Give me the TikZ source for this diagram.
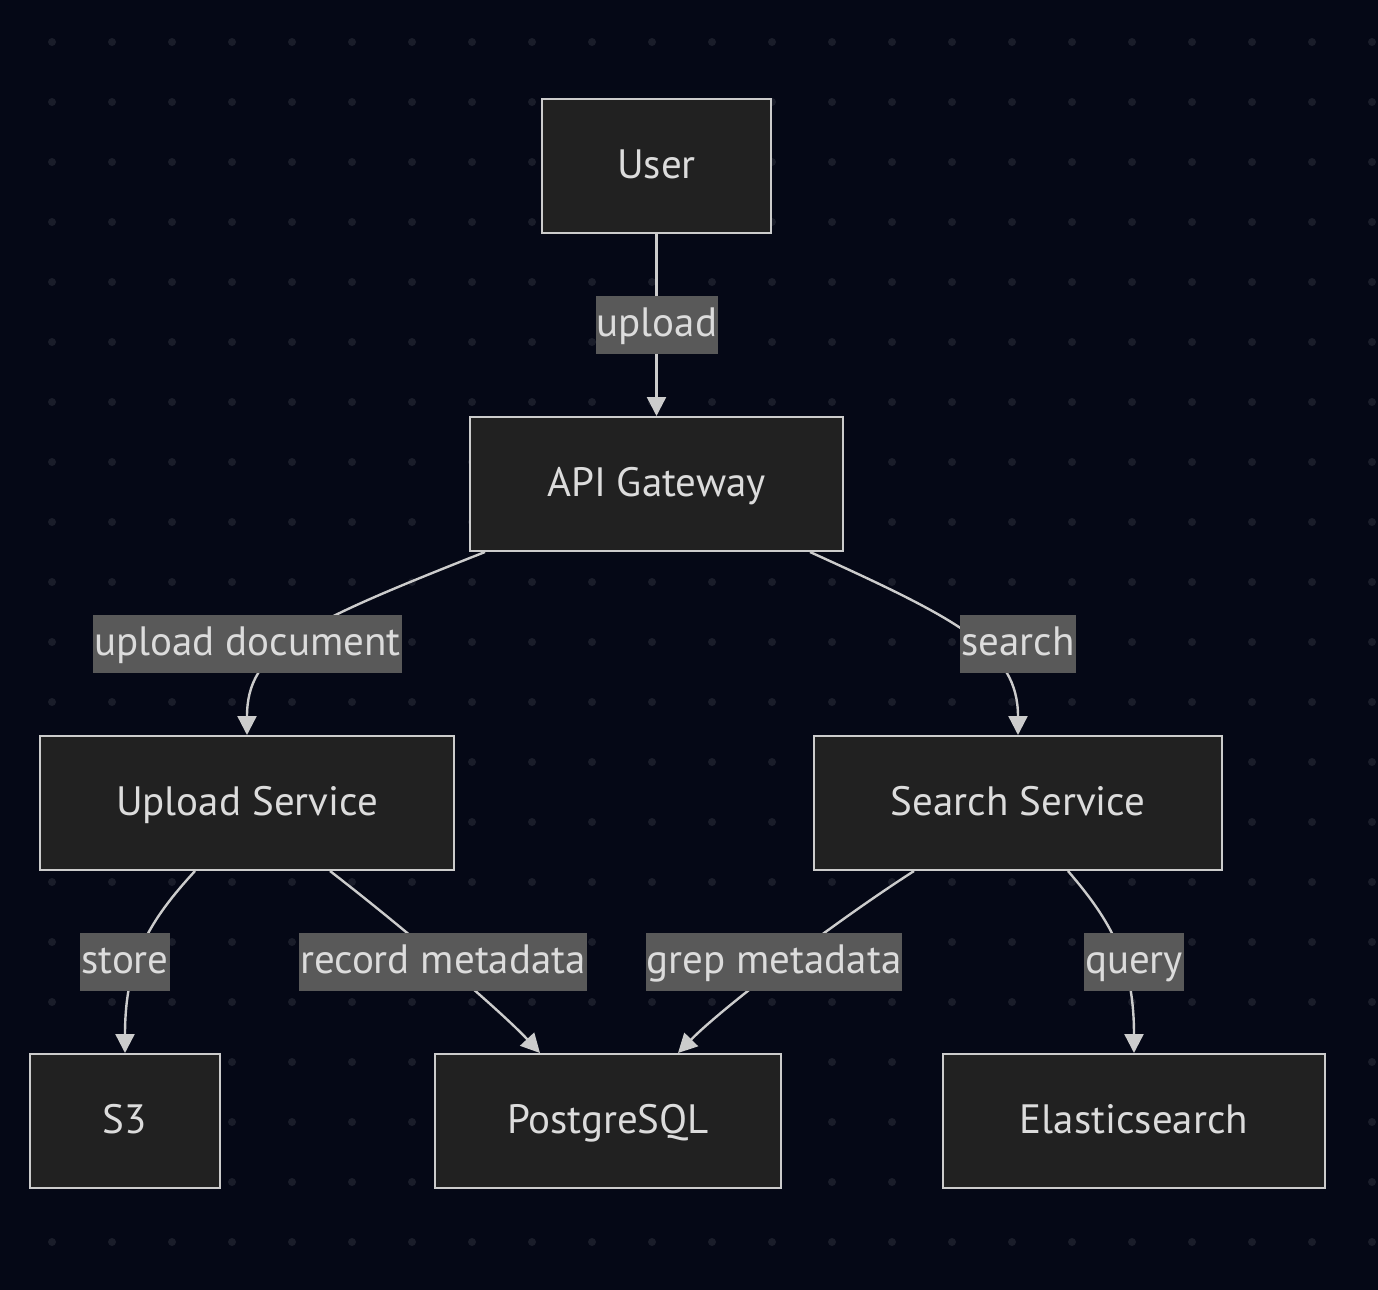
\documentclass[tikz,border=0pt]{standalone}
\usepackage{fontspec}
\setmainfont{PT Sans}
\usetikzlibrary{calc,arrows.meta}
\definecolor{bgcol}{HTML}{050816}
\definecolor{dotcol}{HTML}{1A1D2A}
\definecolor{boxcol}{HTML}{212121}
\definecolor{edgecol}{HTML}{CCCCCC}
\definecolor{txtcol}{HTML}{DCDCDC}
\definecolor{lblcol}{HTML}{595959}
\tikzset{
  box/.style={draw=edgecol, line width=1pt, fill=boxcol, text=txtcol, minimum height=67pt, inner sep=0pt, text height=14.5pt, text depth=2.5pt, font=\fontsize{20.5}{24}\selectfont},
  lbl/.style={fill=lblcol, text=txtcol, minimum height=29pt, inner xsep=0.5pt, inner ysep=0pt, text height=14.5pt, text depth=3pt, font=\fontsize{20.5}{24}\selectfont},
  flow/.style={draw=edgecol, line width=1.2pt, -{Triangle[length=9.5pt,width=9.5pt]}}
}
\begin{document}
\begin{tikzpicture}[x=0.5pt,y=-0.5pt]

\fill [bgcol] (0,0) rectangle (1378,1290);
\useasboundingbox (0,0) rectangle (1378,1290);

\foreach \i in {0,...,22}
  \foreach \j in {0,...,20}
    \fill [dotcol] (52+60*\i, 42+60*\j) circle [radius=2pt];


\node[box, minimum width=114.5pt] (user) at (656.5,166) {User};
\node[box, minimum width=186.5pt] (api) at (656.5,484) {API Gateway};

\node[box, minimum width=207pt] (upsvc) at (247,803) {Upload Service};
\node[box, minimum width=204pt] (searchsvc) at (1018,803) {Search Service};

\node[box, minimum width=95pt] (s3) at (125,1121) {S3};
\node[box, minimum width=173pt] (pg) at (608,1121) {PostgreSQL};
\node[box, minimum width=191pt] (es) at (1134,1121) {Elasticsearch};


\draw [flow] (user.south) -- (api.north);

\draw [flow] ($(api.south)+(-171.5,0)$) .. controls (300,625) and (247,650) .. (upsvc.north);
\draw [flow] ($(api.south)+(153.5,0)$) .. controls (960,620) and (1018,650) .. (searchsvc.north);

\draw [flow] ($(upsvc.south)+(-52,0)$) .. controls (150,920) and (125,960) .. (s3.north);
\draw [flow] ($(upsvc.south)+(83,0)$) .. controls (400,925) and (500,1010) .. ($(pg.north)+(-68,0)$);
\draw [flow] ($(searchsvc.south)+(-104,0)$) .. controls (830,925) and (720,1010) .. ($(pg.north)+(70,0)$);
\draw [flow] ($(searchsvc.south)+(50,0)$) .. controls (1110,920) and (1134,960) .. (es.north);


\node[lbl] (lupload) at (657,325) {upload};
\node[lbl] (lupdoc) at (247.5,644) {upload document};
\node[lbl] (lsearch) at (1018,644) {search};
\node[lbl] (lstore) at (125,962) {store};
\node[lbl] (lrecord) at (443,962) {record metadata};
\node[lbl] (lgrep) at (774,962) {grep metadata};
\node[lbl] (lquery) at (1134,962) {query};

\end{tikzpicture}
\end{document}
